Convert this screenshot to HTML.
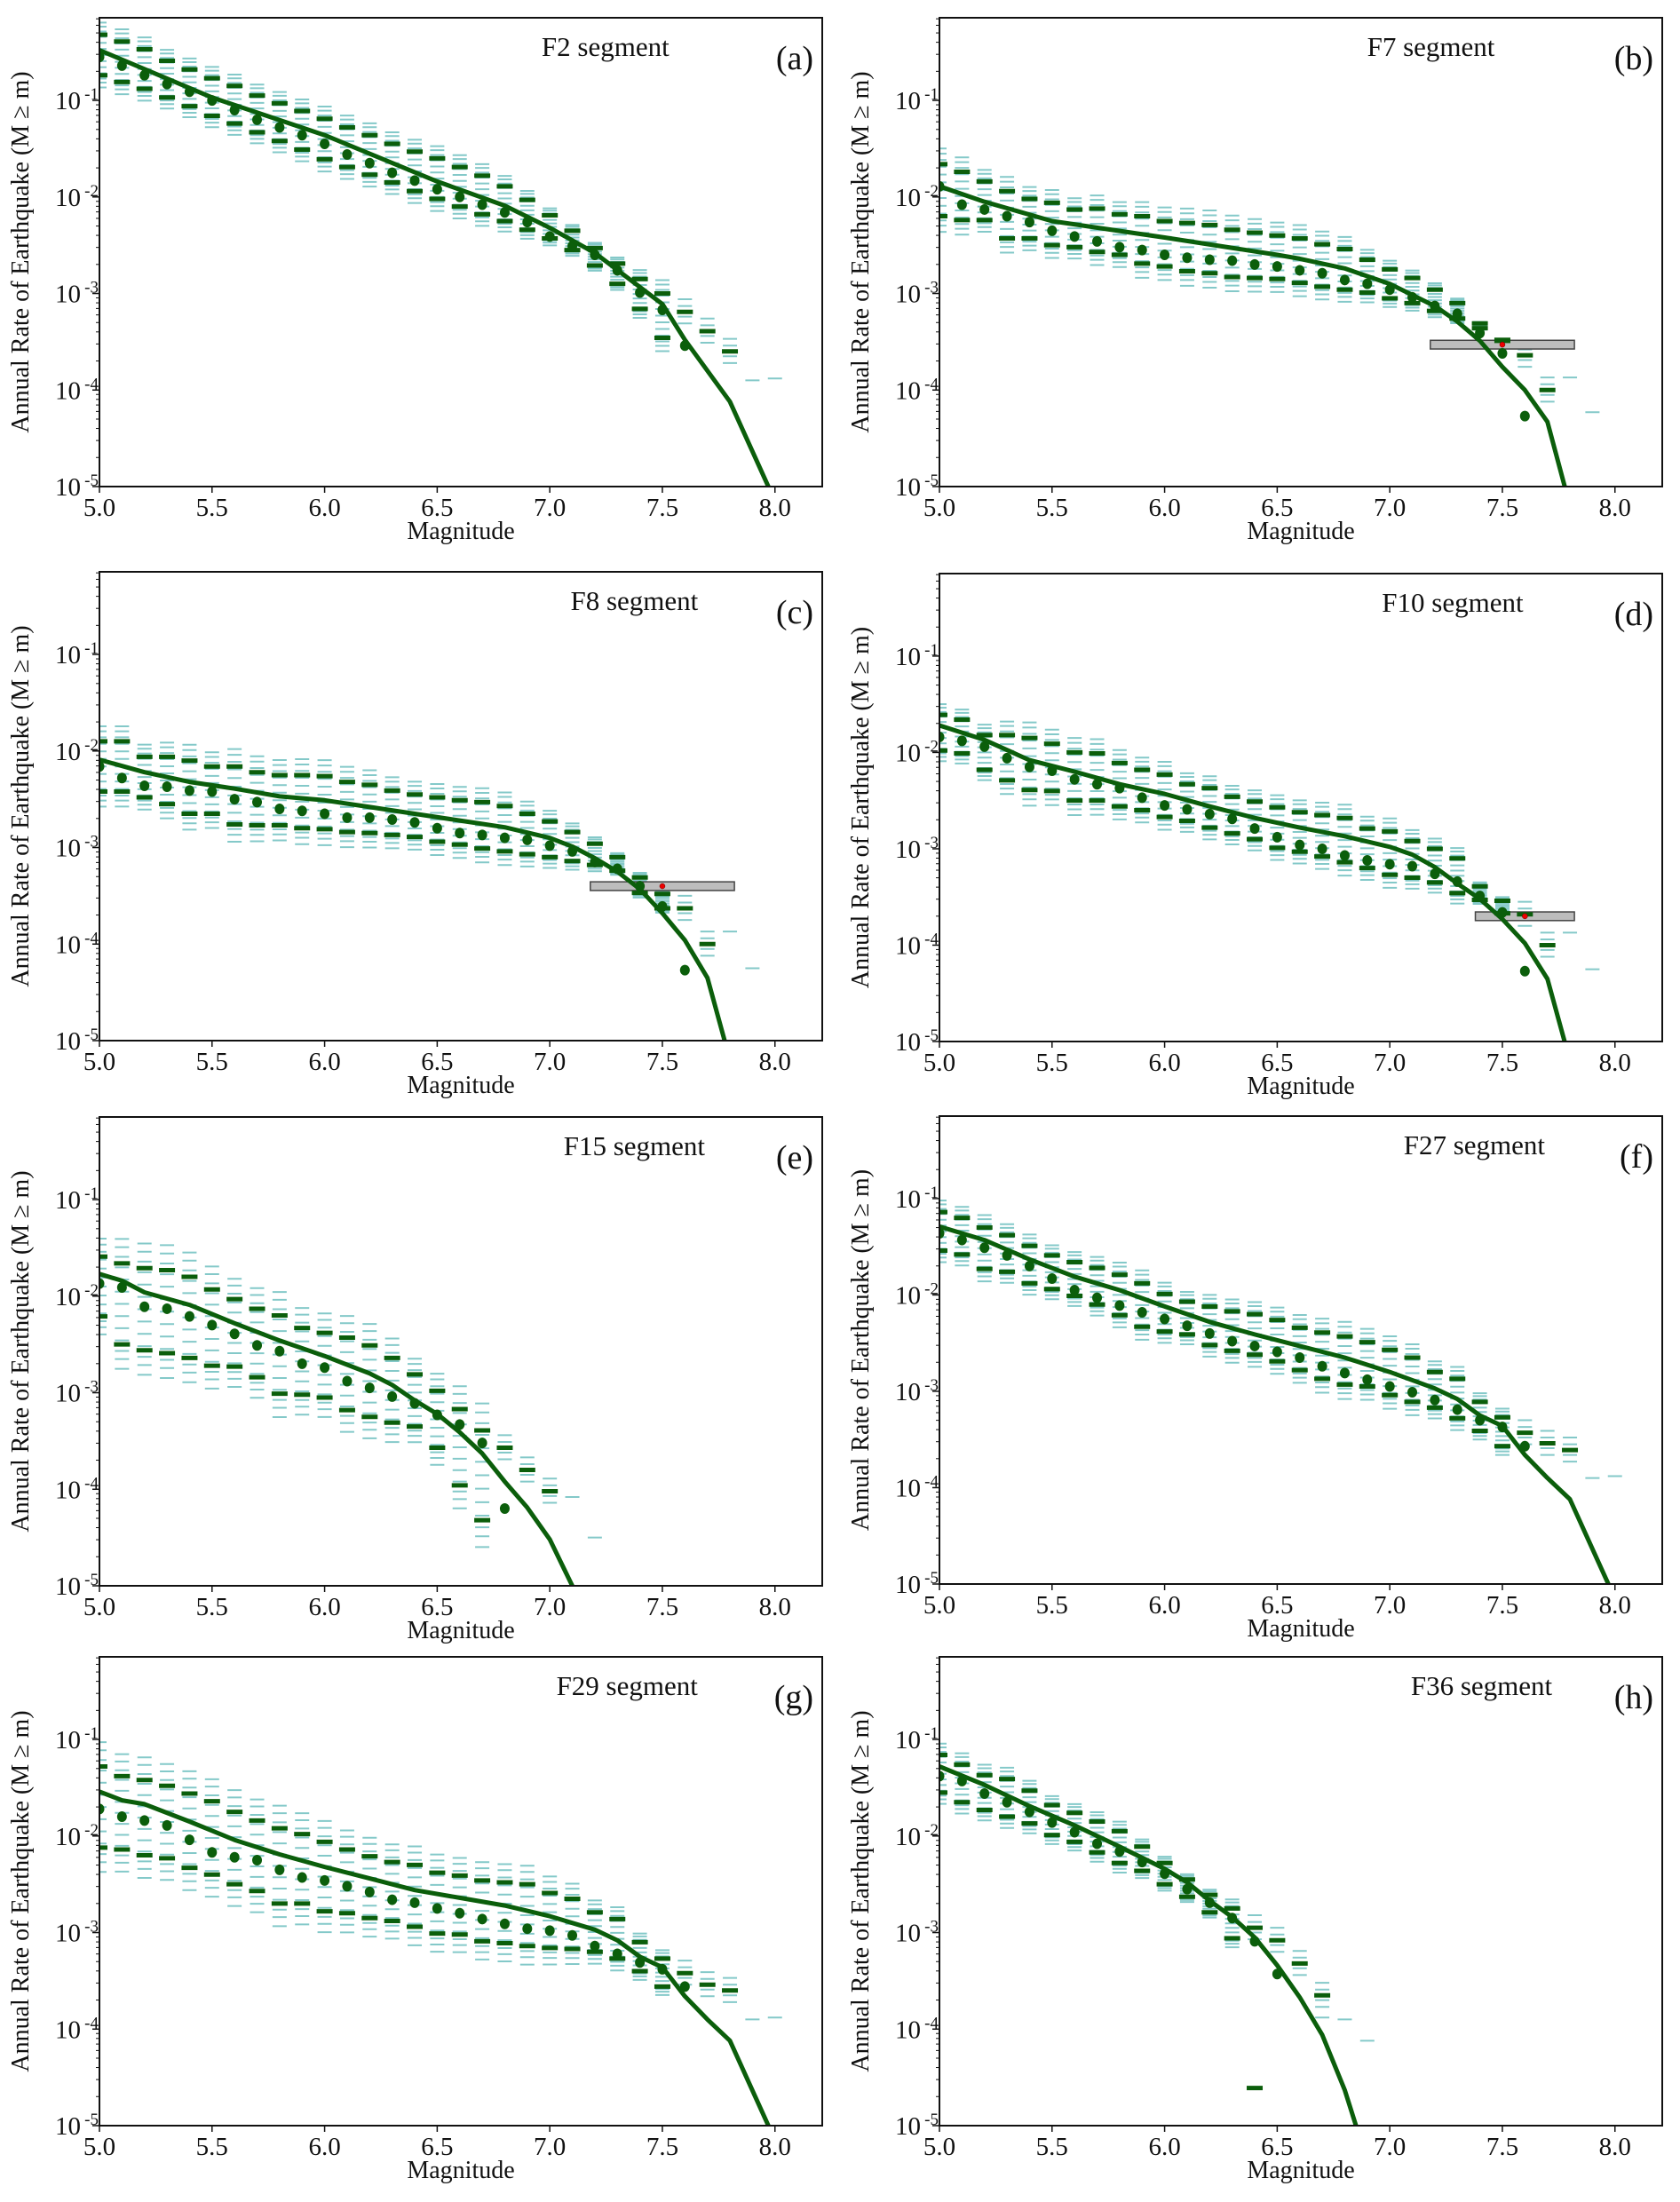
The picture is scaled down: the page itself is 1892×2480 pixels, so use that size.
<!DOCTYPE html>
<html><head><meta charset="utf-8"><style>
html,body{margin:0;padding:0;background:#fff;}
svg{display:block;}
text{font-family:"Liberation Serif","DejaVu Serif",serif;fill:#111;}
</style></head>
<body>
<svg id="fig" width="1892" height="2480" viewBox="0 0 1892 2480" xmlns="http://www.w3.org/2000/svg"></svg>
<script>
// shared magnitude categories (index i -> 5.0 + 0.1*i)
const mags = [5.0,5.1,5.2,5.3,5.4,5.5,5.6,5.7,5.8,5.9,6.0,6.1,6.2,6.3,6.4,6.5,6.6,6.7,6.8,6.9,7.0,7.1,7.2,7.3,7.4,7.5,7.6,7.7,7.8,7.9];
const xTicks = [5.0,5.5,6.0,6.5,7.0,7.5,8.0];
const xTickLabels = ["5.0","5.5","6.0","6.5","7.0","7.5","8.0"];
const yTicks = [-5,-4,-3,-2,-1];
const yTickLabels = ["-5","-4","-3","-2","-1"];

// values are log10(annual rate)
const aLineM=[5.0,5.5,6.0,6.5,6.8,7.0,7.2,7.5,7.6,7.8,8.0];
const aLineV=[-0.48,-0.97,-1.36,-1.84,-2.09,-2.32,-2.58,-3.11,-3.48,-4.12,-5.15];
const aDots=[-0.55,-0.64,-0.74,-0.83,-0.91,-1.0,-1.1,-1.2,-1.28,-1.36,-1.45,-1.56,-1.65,-1.75,-1.83,-1.92,-2.0,-2.08,-2.16,-2.26,-2.41,-2.51,-2.6,-2.76,-2.99,-3.17,-3.54];
const aHi=[-0.32,-0.39,-0.47,-0.59,-0.68,-0.77,-0.85,-0.95,-1.03,-1.11,-1.19,-1.28,-1.36,-1.45,-1.53,-1.6,-1.69,-1.78,-1.89,-2.03,-2.19,-2.35,-2.53,-2.69,-2.85,-3.0,-3.19,-3.39,-3.6];
const aLo=[-0.74,-0.81,-0.88,-0.97,-1.06,-1.16,-1.24,-1.33,-1.42,-1.51,-1.61,-1.69,-1.77,-1.85,-1.94,-2.02,-2.1,-2.18,-2.25,-2.34,-2.43,-2.55,-2.71,-2.9,-3.16,-3.46];
const aTailM=[7.9,8.0], aTailV=[-3.9,-3.88];

const bLineM=[5.0,5.2,5.5,6.0,6.5,6.6,6.8,7.0,7.2,7.3,7.4,7.5,7.6,7.7,7.8];
const bLineV=[-1.89,-2.05,-2.25,-2.42,-2.6,-2.64,-2.74,-2.9,-3.13,-3.29,-3.49,-3.76,-4.0,-4.33,-5.2];
const bDots=[-1.89,-2.08,-2.13,-2.2,-2.26,-2.35,-2.41,-2.46,-2.52,-2.55,-2.6,-2.63,-2.65,-2.66,-2.7,-2.72,-2.76,-2.79,-2.86,-2.9,-2.96,-3.04,-3.13,-3.21,-3.41,-3.62,-4.27];
const bHi=[-1.66,-1.74,-1.84,-1.94,-2.02,-2.06,-2.13,-2.12,-2.18,-2.2,-2.25,-2.27,-2.29,-2.34,-2.37,-2.4,-2.43,-2.49,-2.54,-2.65,-2.75,-2.84,-2.96,-3.1,-3.31,-3.49,-3.64,-4.0];
const bLo=[-2.2,-2.24,-2.24,-2.43,-2.43,-2.5,-2.52,-2.57,-2.6,-2.69,-2.72,-2.77,-2.79,-2.83,-2.84,-2.85,-2.89,-2.93,-2.96,-2.99,-3.05,-3.1,-3.18,-3.26,-3.36,-3.48];
const bTailM=[7.8,7.9], bTailV=[-3.87,-4.23];
const bBox=[7.18,7.82,-3.53], bObs=[7.5,-3.53];

const cLineM=[5.0,5.2,5.4,5.6,5.8,6.0,6.2,6.4,6.6,6.8,7.0,7.1,7.2,7.3,7.4,7.5,7.6,7.7,7.8];
const cLineV=[-2.09,-2.22,-2.32,-2.39,-2.47,-2.51,-2.58,-2.65,-2.72,-2.79,-2.9,-2.99,-3.11,-3.25,-3.43,-3.68,-3.96,-4.35,-5.2];
const cDots=[-2.16,-2.28,-2.36,-2.37,-2.41,-2.42,-2.5,-2.53,-2.6,-2.62,-2.65,-2.69,-2.69,-2.71,-2.74,-2.8,-2.85,-2.87,-2.9,-2.92,-2.98,-3.04,-3.15,-3.22,-3.4,-3.61,-4.27];
const cHi=[-1.9,-1.9,-2.06,-2.06,-2.1,-2.16,-2.16,-2.22,-2.25,-2.25,-2.26,-2.32,-2.35,-2.41,-2.45,-2.48,-2.51,-2.53,-2.57,-2.65,-2.73,-2.84,-2.96,-3.1,-3.31,-3.48,-3.63,-4.0];
const cLo=[-2.42,-2.42,-2.48,-2.55,-2.65,-2.65,-2.76,-2.77,-2.77,-2.8,-2.81,-2.84,-2.85,-2.87,-2.89,-2.94,-2.97,-3.01,-3.04,-3.07,-3.1,-3.14,-3.18,-3.24,-3.47,-3.63];
const cTailM=[7.8,7.9], cTailV=[-3.87,-4.25];
const cBox=[7.18,7.82,-3.4], cObs=[7.5,-3.4];

const dLineM=[5.0,5.2,5.4,5.6,5.8,5.9,6.0,6.2,6.4,6.6,6.8,7.0,7.1,7.2,7.3,7.4,7.5,7.6,7.7,7.8];
const dLineV=[-1.72,-1.87,-2.08,-2.2,-2.33,-2.38,-2.43,-2.56,-2.68,-2.78,-2.87,-2.98,-3.06,-3.19,-3.36,-3.52,-3.73,-3.98,-4.35,-5.2];
const dDots=[-1.84,-1.88,-1.94,-2.06,-2.15,-2.19,-2.28,-2.33,-2.37,-2.47,-2.55,-2.59,-2.64,-2.69,-2.79,-2.88,-2.96,-3.0,-3.07,-3.12,-3.16,-3.18,-3.26,-3.34,-3.49,-3.66,-4.27];
const dHi=[-1.61,-1.66,-1.82,-1.82,-1.85,-1.91,-2.0,-2.01,-2.11,-2.18,-2.23,-2.33,-2.37,-2.46,-2.51,-2.57,-2.62,-2.65,-2.68,-2.79,-2.82,-2.92,-3.0,-3.1,-3.39,-3.54,-3.68,-4.0];
const dLo=[-1.98,-2.01,-2.18,-2.29,-2.39,-2.4,-2.5,-2.5,-2.56,-2.6,-2.67,-2.71,-2.78,-2.84,-2.9,-2.99,-3.03,-3.08,-3.14,-3.2,-3.27,-3.3,-3.35,-3.46,-3.53,-3.67];
const dTailM=[7.8,7.9], dTailV=[-3.87,-4.25];
const dBox=[7.38,7.82,-3.7], dObs=[7.6,-3.7];

const eLineM=[5.0,5.1,5.2,5.4,5.6,5.8,6.0,6.2,6.3,6.4,6.5,6.6,6.7,6.8,6.9,7.0,7.1,7.15];
const eLineV=[-1.77,-1.84,-1.96,-2.09,-2.28,-2.46,-2.62,-2.8,-2.92,-3.08,-3.22,-3.41,-3.63,-3.92,-4.19,-4.52,-5.0,-5.3];
const eDots=[-1.87,-1.91,-2.11,-2.13,-2.21,-2.3,-2.39,-2.51,-2.57,-2.7,-2.74,-2.88,-2.95,-3.04,-3.11,-3.23,-3.33,-3.52,-4.2];
const eHi=[-1.59,-1.66,-1.71,-1.73,-1.8,-1.93,-2.03,-2.13,-2.2,-2.33,-2.38,-2.43,-2.51,-2.64,-2.81,-2.98,-3.17,-3.39,-3.57,-3.8,-4.02];
const eLo=[-2.21,-2.5,-2.56,-2.59,-2.64,-2.72,-2.73,-2.84,-3.01,-3.02,-3.05,-3.18,-3.25,-3.31,-3.35,-3.57,-3.96,-4.32];
const eTailM=[7.1,7.2], eTailV=[-4.08,-4.5];

const fLineM=[5.0,5.2,5.4,5.6,5.8,6.0,6.2,6.4,6.6,6.8,7.0,7.2,7.3,7.4,7.5,7.6,7.7,7.8,8.0];
const fLineV=[-1.29,-1.43,-1.63,-1.81,-1.95,-2.12,-2.28,-2.41,-2.53,-2.65,-2.8,-2.97,-3.08,-3.25,-3.36,-3.66,-3.9,-4.12,-5.15];
const fDots=[-1.36,-1.43,-1.51,-1.59,-1.7,-1.83,-1.95,-2.03,-2.11,-2.18,-2.25,-2.32,-2.4,-2.48,-2.53,-2.59,-2.65,-2.74,-2.81,-2.88,-2.95,-3.01,-3.09,-3.19,-3.3,-3.37,-3.57];
const fHi=[-1.14,-1.2,-1.3,-1.38,-1.49,-1.59,-1.66,-1.72,-1.79,-1.88,-1.99,-2.07,-2.12,-2.17,-2.2,-2.26,-2.34,-2.39,-2.43,-2.49,-2.57,-2.65,-2.8,-2.87,-3.11,-3.27,-3.43,-3.54,-3.61];
const fLo=[-1.54,-1.58,-1.73,-1.76,-1.88,-1.94,-2.01,-2.1,-2.21,-2.33,-2.38,-2.41,-2.52,-2.58,-2.62,-2.69,-2.78,-2.87,-2.93,-2.95,-3.04,-3.11,-3.17,-3.28,-3.41,-3.57];
const fTailM=[7.9,8.0], fTailV=[-3.9,-3.88];

const gLineM=[5.0,5.1,5.2,5.4,5.6,5.8,6.0,6.2,6.4,6.6,6.8,7.0,7.2,7.3,7.4,7.5,7.6,7.7,7.8,8.0];
const gLineV=[-1.54,-1.63,-1.67,-1.85,-2.04,-2.19,-2.32,-2.44,-2.56,-2.64,-2.72,-2.83,-2.97,-3.08,-3.25,-3.36,-3.66,-3.9,-4.12,-5.15];
const gDots=[-1.72,-1.8,-1.84,-1.89,-2.04,-2.17,-2.22,-2.25,-2.35,-2.43,-2.46,-2.52,-2.58,-2.66,-2.69,-2.75,-2.8,-2.86,-2.91,-2.96,-2.98,-3.03,-3.14,-3.22,-3.31,-3.38,-3.56];
const gHi=[-1.28,-1.38,-1.42,-1.48,-1.56,-1.64,-1.75,-1.84,-1.92,-1.98,-2.06,-2.14,-2.21,-2.27,-2.3,-2.38,-2.41,-2.46,-2.48,-2.5,-2.59,-2.65,-2.79,-2.86,-3.1,-3.27,-3.42,-3.54,-3.6];
const gLo=[-2.12,-2.14,-2.2,-2.23,-2.33,-2.4,-2.5,-2.57,-2.7,-2.7,-2.78,-2.8,-2.85,-2.88,-2.94,-3.01,-3.02,-3.09,-3.11,-3.14,-3.16,-3.17,-3.2,-3.27,-3.4,-3.56];
const gTailM=[7.9,8.0], gTailV=[-3.9,-3.88];

const hLineM=[5.0,5.2,5.4,5.6,5.8,6.0,6.1,6.2,6.3,6.4,6.5,6.6,6.7,6.8,6.85,6.9];
const hLineV=[-1.28,-1.47,-1.69,-1.89,-2.11,-2.34,-2.48,-2.67,-2.84,-3.05,-3.34,-3.67,-4.06,-4.63,-5.0,-5.3];
const hDots=[-1.38,-1.43,-1.56,-1.65,-1.75,-1.86,-1.96,-2.08,-2.16,-2.27,-2.39,-2.55,-2.69,-2.85,-3.09,-3.43];
const hHi=[-1.16,-1.26,-1.37,-1.41,-1.53,-1.68,-1.76,-1.85,-1.95,-2.11,-2.28,-2.45,-2.61,-2.75,-2.95,-3.08,-3.32,-3.65];
const hLo=[-1.55,-1.65,-1.73,-1.8,-1.87,-1.99,-2.06,-2.17,-2.28,-2.36,-2.5,-2.63,-2.79,-3.06];
const hOutM=[6.4], hOutV=[-4.61];
const hTailM=[6.7,6.8,6.9], hTailV=[-3.88,-3.9,-4.12];

const panels=[
 {id:'a',title:'F2 segment',tx:0.70,L:112,R:926,T:20,B:548,line:[aLineM,aLineV],dots:aDots,hi:aHi,lo:aLo,tail:[aTailM,aTailV]},
 {id:'b',title:'F7 segment',tx:0.68,L:1058,R:1872,T:20,B:548,line:[bLineM,bLineV],dots:bDots,hi:bHi,lo:bLo,tail:[bTailM,bTailV],box:bBox,obs:bObs},
 {id:'c',title:'F8 segment',tx:0.74,L:112,R:926,T:644,B:1172,line:[cLineM,cLineV],dots:cDots,hi:cHi,lo:cLo,tail:[cTailM,cTailV],box:cBox,obs:cObs},
 {id:'d',title:'F10 segment',tx:0.71,L:1058,R:1872,T:646,B:1173,line:[dLineM,dLineV],dots:dDots,hi:dHi,lo:dLo,tail:[dTailM,dTailV],box:dBox,obs:dObs},
 {id:'e',title:'F15 segment',tx:0.74,L:112,R:926,T:1258,B:1786,line:[eLineM,eLineV],dots:eDots,hi:eHi,lo:eLo,tail:[eTailM,eTailV]},
 {id:'f',title:'F27 segment',tx:0.74,L:1058,R:1872,T:1257,B:1784,line:[fLineM,fLineV],dots:fDots,hi:fHi,lo:fLo,tail:[fTailM,fTailV]},
 {id:'g',title:'F29 segment',tx:0.73,L:112,R:926,T:1866,B:2394,line:[gLineM,gLineV],dots:gDots,hi:gHi,lo:gLo,tail:[gTailM,gTailV]},
 {id:'h',title:'F36 segment',tx:0.75,L:1058,R:1872,T:1866,B:2394,line:[hLineM,hLineV],dots:hDots,hi:hHi,lo:hLo,tail:[hTailM,hTailV],out:[hOutM,hOutV]}
];
const tealFracs=[-0.3,-0.18,-0.08,0.05,0.2,0.35,0.5,0.65,0.8,0.95,1.08,1.2,1.3];
const tealOffs=[0.06,-0.05,-0.12,0.13];
const XMIN=5.0,XMAX=8.21,YMIN=-5,YMAX=-0.144;
const NS='http://www.w3.org/2000/svg';
const svg=document.getElementById('fig');
function mk(tag,attrs,parent){const e=document.createElementNS(NS,tag);for(const k in attrs)e.setAttribute(k,attrs[k]);(parent||svg).appendChild(e);return e;}

panels.forEach(p=>{
 const sx=m=>p.L+(m-XMIN)/(XMAX-XMIN)*(p.R-p.L);
 const sy=v=>p.B-(v-YMIN)/(YMAX-YMIN)*(p.B-p.T);
 const g=mk('g',{});
 
 
 const cid='clip-'+p.id;
 const cp=mk('clipPath',{id:cid},g); mk('rect',{x:p.L,y:p.T,width:p.R-p.L,height:p.B-p.T},cp);
 const plot=mk('g',{'clip-path':'url(#'+cid+')'},g);
 
 
 const teal=mk('g',{stroke:'#5cb8b8','stroke-width':2,opacity:0.75},plot);
 
 
 p.hi.forEach((h,i)=>{
  const x=sx(mags[i]);
  if(i<p.lo.length){const lo=p.lo[i];
   tealFracs.forEach(f=>{const y=sy(lo+f*(h-lo));mk('line',{x1:x-8,x2:x+8,y1:y,y2:y},teal);});
  } else {tealOffs.forEach(o=>{const y=sy(h+o);mk('line',{x1:x-8,x2:x+8,y1:y,y2:y},teal);});}
 });
 p.tail[0].forEach((m,i)=>{const y=sy(p.tail[1][i]);mk('line',{x1:sx(m)-8,x2:sx(m)+8,y1:y,y2:y},teal);});
 if(p.box){const r=mk('rect',{x:sx(p.box[0]),y:sy(p.box[2]+0.045),width:sx(p.box[1])-sx(p.box[0]),height:sy(p.box[2]-0.045)-sy(p.box[2]+0.045),fill:'#bdbdbd',stroke:'#444','stroke-width':1.5},plot);
  
  }
 const dk=mk('g',{stroke:'#0b5e0b','stroke-width':5},plot);
 
 
 const dash=(m,v)=>{const y=sy(v);mk('line',{x1:sx(m)-9,x2:sx(m)+9,y1:y,y2:y},dk);};
 p.hi.forEach((v,i)=>dash(mags[i],v));
 p.lo.forEach((v,i)=>dash(mags[i],v));
 if(p.out)p.out[0].forEach((m,i)=>dash(m,p.out[1][i]));
 const dg=mk('g',{fill:'#0b5e0b'},plot);
 
 
 p.dots.forEach((v,i)=>mk('ellipse',{cx:sx(mags[i]),cy:sy(v),rx:5.5,ry:6},dg));
 const pts=p.line[0].map((m,i)=>sx(m).toFixed(1)+','+sy(p.line[1][i]).toFixed(1)).join(' ');
 const pl=mk('polyline',{points:pts,fill:'none',stroke:'#0b5e0b','stroke-width':5,'stroke-linejoin':'round'},plot);
 
 
 if(p.obs){const c=mk('circle',{cx:sx(p.obs[0]),cy:sy(p.obs[1]),r:3,fill:'#e00',stroke:'#600','stroke-width':0.5},plot);
  
  }
 const fr=mk('rect',{x:p.L,y:p.T,width:p.R-p.L,height:p.B-p.T,fill:'none',stroke:'#111','stroke-width':2},g);
 
 
 const xa=mk('g',{},g);
 
 
 xTicks.forEach((t,i)=>{const x=sx(t);mk('line',{x1:x,x2:x,y1:p.B,y2:p.B+7,stroke:'#111','stroke-width':1.5},xa);
  const tx=mk('text',{x:x,y:p.B+33,'text-anchor':'middle','font-size':29},xa);tx.textContent=xTickLabels[i];});
 const xl=mk('text',{x:(p.L+p.R)/2,y:p.B+59,'text-anchor':'middle','font-size':28},g);xl.textContent='Magnitude';
 
 
 const ya=mk('g',{},g);
 
 
 yTicks.forEach((t,i)=>{const y=sy(t);mk('line',{x1:p.L-8,x2:p.L,y1:y,y2:y,stroke:'#111','stroke-width':1.5},ya);
  const tx=mk('text',{x:p.L-21,y:y+10,'text-anchor':'end','font-size':29},ya);tx.textContent='10';
  const sp=mk('text',{x:p.L-1,y:y-1,'text-anchor':'end','font-size':19},ya);sp.textContent=yTickLabels[i];
  for(let k=2;k<=9;k++){const v=t+Math.log10(k);if(v>YMAX)break;const yy=sy(v);mk('line',{x1:p.L-4,x2:p.L,y1:yy,y2:yy,stroke:'#111','stroke-width':1},ya);}
 });
 const cy=(p.T+p.B)/2;
 const yl=mk('text',{x:p.L-80,y:cy,'text-anchor':'middle','font-size':28,transform:'rotate(-90 '+(p.L-80)+' '+cy+')'},g);
 yl.textContent='Annual Rate of Earthquake (M \u2265 m)';
 
 
 const tt=mk('text',{x:p.L+p.tx*(p.R-p.L),y:p.T+43,'text-anchor':'middle','font-size':31},g);tt.textContent=p.title;
 
 
 const pl2=mk('text',{x:p.R-10,y:p.T+58,'text-anchor':'end','font-size':38},g);pl2.textContent='('+p.id+')';
 
 
});
</script>
</body></html>
